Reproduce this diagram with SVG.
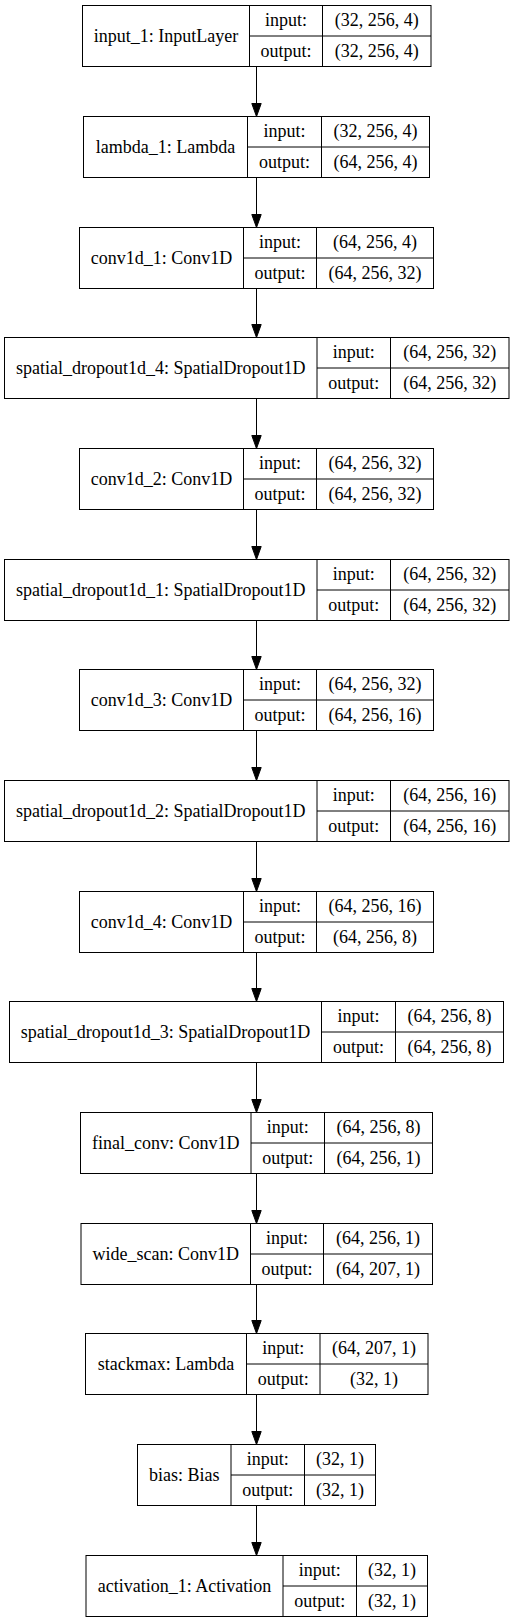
<svg xmlns="http://www.w3.org/2000/svg" width="513" height="1623" viewBox="0 0 513 1623">
<style>
rect.b{fill:#fff;stroke:#000;stroke-width:1}
path.d{fill:none;stroke:#000;stroke-width:1}
text{font-family:"Liberation Serif","Times New Roman",serif;font-size:18px;fill:#000;text-anchor:middle}
.e line{stroke:#000;stroke-width:1}
.e polygon{fill:#000;stroke:#000;stroke-width:1}
</style>
<rect width="513" height="1623" fill="#fff"/>
<g id="connectors" class="e">
<line x1="256.5" y1="66.5" x2="256.5" y2="103.5"/><polygon points="256.5,116.5 251.8,103.5 261.2,103.5"/>
<line x1="256.5" y1="177.5" x2="256.5" y2="214.5"/><polygon points="256.5,227.5 251.8,214.5 261.2,214.5"/>
<line x1="256.5" y1="288.5" x2="256.5" y2="324.5"/><polygon points="256.5,337.5 251.8,324.5 261.2,324.5"/>
<line x1="256.5" y1="398.5" x2="256.5" y2="435.5"/><polygon points="256.5,448.5 251.8,435.5 261.2,435.5"/>
<line x1="256.5" y1="509.5" x2="256.5" y2="546.5"/><polygon points="256.5,559.5 251.8,546.5 261.2,546.5"/>
<line x1="256.5" y1="620.5" x2="256.5" y2="656.5"/><polygon points="256.5,669.5 251.8,656.5 261.2,656.5"/>
<line x1="256.5" y1="730.5" x2="256.5" y2="767.5"/><polygon points="256.5,780.5 251.8,767.5 261.2,767.5"/>
<line x1="256.5" y1="841.5" x2="256.5" y2="878.5"/><polygon points="256.5,891.5 251.8,878.5 261.2,878.5"/>
<line x1="256.5" y1="952.5" x2="256.5" y2="988.5"/><polygon points="256.5,1001.5 251.8,988.5 261.2,988.5"/>
<line x1="256.5" y1="1062.5" x2="256.5" y2="1099.5"/><polygon points="256.5,1112.5 251.8,1099.5 261.2,1099.5"/>
<line x1="256.5" y1="1173.5" x2="256.5" y2="1210.5"/><polygon points="256.5,1223.5 251.8,1210.5 261.2,1210.5"/>
<line x1="256.5" y1="1284.5" x2="256.5" y2="1320.5"/><polygon points="256.5,1333.5 251.8,1320.5 261.2,1320.5"/>
<line x1="256.5" y1="1394.5" x2="256.5" y2="1431.5"/><polygon points="256.5,1444.5 251.8,1431.5 261.2,1431.5"/>
<line x1="256.5" y1="1505.5" x2="256.5" y2="1542.5"/><polygon points="256.5,1555.5 251.8,1542.5 261.2,1542.5"/>
</g>
<g id="input_1">
<rect class="b" x="82.5" y="5.5" width="348.5" height="61"/>
<path class="d" d="M249.5,5.5V66.5M322.5,5.5V66.5M249.5,36H431"/>
<text x="166" y="41.5">input_1: InputLayer</text>
<text x="286" y="26.25">input:</text><text x="376.75" y="26.25">(32, 256, 4)</text>
<text x="286" y="56.75">output:</text><text x="376.75" y="56.75">(32, 256, 4)</text>
</g>
<g id="lambda_1">
<rect class="b" x="83.5" y="116.5" width="346" height="61"/>
<path class="d" d="M247.5,116.5V177.5M321.5,116.5V177.5M247.5,147H429.5"/>
<text x="165.5" y="152.5">lambda_1: Lambda</text>
<text x="284.5" y="137.25">input:</text><text x="375.5" y="137.25">(32, 256, 4)</text>
<text x="284.5" y="167.75">output:</text><text x="375.5" y="167.75">(64, 256, 4)</text>
</g>
<g id="conv1d_1">
<rect class="b" x="79.5" y="227.5" width="354" height="61"/>
<path class="d" d="M243.5,227.5V288.5M316.5,227.5V288.5M243.5,258H433.5"/>
<text x="161.5" y="263.5">conv1d_1: Conv1D</text>
<text x="280" y="248.25">input:</text><text x="375" y="248.25">(64, 256, 4)</text>
<text x="280" y="278.75">output:</text><text x="375" y="278.75">(64, 256, 32)</text>
</g>
<g id="spatial_dropout1d_4">
<rect class="b" x="4.5" y="337.5" width="504.5" height="61"/>
<path class="d" d="M317,337.5V398.5M390.5,337.5V398.5M317,368H509"/>
<text x="160.75" y="373.5">spatial_dropout1d_4: SpatialDropout1D</text>
<text x="353.75" y="358.25">input:</text><text x="449.75" y="358.25">(64, 256, 32)</text>
<text x="353.75" y="388.75">output:</text><text x="449.75" y="388.75">(64, 256, 32)</text>
</g>
<g id="conv1d_2">
<rect class="b" x="79.5" y="448.5" width="354" height="61"/>
<path class="d" d="M243.5,448.5V509.5M316.5,448.5V509.5M243.5,479H433.5"/>
<text x="161.5" y="484.5">conv1d_2: Conv1D</text>
<text x="280" y="469.25">input:</text><text x="375" y="469.25">(64, 256, 32)</text>
<text x="280" y="499.75">output:</text><text x="375" y="499.75">(64, 256, 32)</text>
</g>
<g id="spatial_dropout1d_1">
<rect class="b" x="4.5" y="559.5" width="504.5" height="61"/>
<path class="d" d="M317,559.5V620.5M390.5,559.5V620.5M317,590H509"/>
<text x="160.75" y="595.5">spatial_dropout1d_1: SpatialDropout1D</text>
<text x="353.75" y="580.25">input:</text><text x="449.75" y="580.25">(64, 256, 32)</text>
<text x="353.75" y="610.75">output:</text><text x="449.75" y="610.75">(64, 256, 32)</text>
</g>
<g id="conv1d_3">
<rect class="b" x="79.5" y="669.5" width="354" height="61"/>
<path class="d" d="M243.5,669.5V730.5M316.5,669.5V730.5M243.5,700H433.5"/>
<text x="161.5" y="705.5">conv1d_3: Conv1D</text>
<text x="280" y="690.25">input:</text><text x="375" y="690.25">(64, 256, 32)</text>
<text x="280" y="720.75">output:</text><text x="375" y="720.75">(64, 256, 16)</text>
</g>
<g id="spatial_dropout1d_2">
<rect class="b" x="4.5" y="780.5" width="504.5" height="61"/>
<path class="d" d="M317,780.5V841.5M390.5,780.5V841.5M317,811H509"/>
<text x="160.75" y="816.5">spatial_dropout1d_2: SpatialDropout1D</text>
<text x="353.75" y="801.25">input:</text><text x="449.75" y="801.25">(64, 256, 16)</text>
<text x="353.75" y="831.75">output:</text><text x="449.75" y="831.75">(64, 256, 16)</text>
</g>
<g id="conv1d_4">
<rect class="b" x="79.5" y="891.5" width="354" height="61"/>
<path class="d" d="M243.5,891.5V952.5M316.5,891.5V952.5M243.5,922H433.5"/>
<text x="161.5" y="927.5">conv1d_4: Conv1D</text>
<text x="280" y="912.25">input:</text><text x="375" y="912.25">(64, 256, 16)</text>
<text x="280" y="942.75">output:</text><text x="375" y="942.75">(64, 256, 8)</text>
</g>
<g id="spatial_dropout1d_3">
<rect class="b" x="9.5" y="1001.5" width="494" height="61"/>
<path class="d" d="M321.5,1001.5V1062.5M395.5,1001.5V1062.5M321.5,1032H503.5"/>
<text x="165.5" y="1037.5">spatial_dropout1d_3: SpatialDropout1D</text>
<text x="358.5" y="1022.25">input:</text><text x="449.5" y="1022.25">(64, 256, 8)</text>
<text x="358.5" y="1052.75">output:</text><text x="449.5" y="1052.75">(64, 256, 8)</text>
</g>
<g id="final_conv">
<rect class="b" x="80.5" y="1112.5" width="352" height="61"/>
<path class="d" d="M251,1112.5V1173.5M324.5,1112.5V1173.5M251,1143H432.5"/>
<text x="165.75" y="1148.5">final_conv: Conv1D</text>
<text x="287.75" y="1133.25">input:</text><text x="378.5" y="1133.25">(64, 256, 8)</text>
<text x="287.75" y="1163.75">output:</text><text x="378.5" y="1163.75">(64, 256, 1)</text>
</g>
<g id="wide_scan">
<rect class="b" x="81" y="1223.5" width="351.5" height="61"/>
<path class="d" d="M250.5,1223.5V1284.5M323.5,1223.5V1284.5M250.5,1254H432.5"/>
<text x="165.75" y="1259.5">wide_scan: Conv1D</text>
<text x="287" y="1244.25">input:</text><text x="378" y="1244.25">(64, 256, 1)</text>
<text x="287" y="1274.75">output:</text><text x="378" y="1274.75">(64, 207, 1)</text>
</g>
<g id="stackmax">
<rect class="b" x="85.5" y="1333.5" width="342.5" height="61"/>
<path class="d" d="M246.5,1333.5V1394.5M320,1333.5V1394.5M246.5,1364H428"/>
<text x="166" y="1369.5">stackmax: Lambda</text>
<text x="283.25" y="1354.25">input:</text><text x="374" y="1354.25">(64, 207, 1)</text>
<text x="283.25" y="1384.75">output:</text><text x="374" y="1384.75">(32, 1)</text>
</g>
<g id="bias">
<rect class="b" x="137.5" y="1444.5" width="238" height="61"/>
<path class="d" d="M231,1444.5V1505.5M304.5,1444.5V1505.5M231,1475H375.5"/>
<text x="184.25" y="1480.5">bias: Bias</text>
<text x="267.75" y="1465.25">input:</text><text x="340" y="1465.25">(32, 1)</text>
<text x="267.75" y="1495.75">output:</text><text x="340" y="1495.75">(32, 1)</text>
</g>
<g id="activation_1">
<rect class="b" x="86" y="1555.5" width="341.5" height="61"/>
<path class="d" d="M283,1555.5V1616.5M356.5,1555.5V1616.5M283,1586H427.5"/>
<text x="184.5" y="1591.5">activation_1: Activation</text>
<text x="319.75" y="1576.25">input:</text><text x="392" y="1576.25">(32, 1)</text>
<text x="319.75" y="1606.75">output:</text><text x="392" y="1606.75">(32, 1)</text>
</g>
</svg>
